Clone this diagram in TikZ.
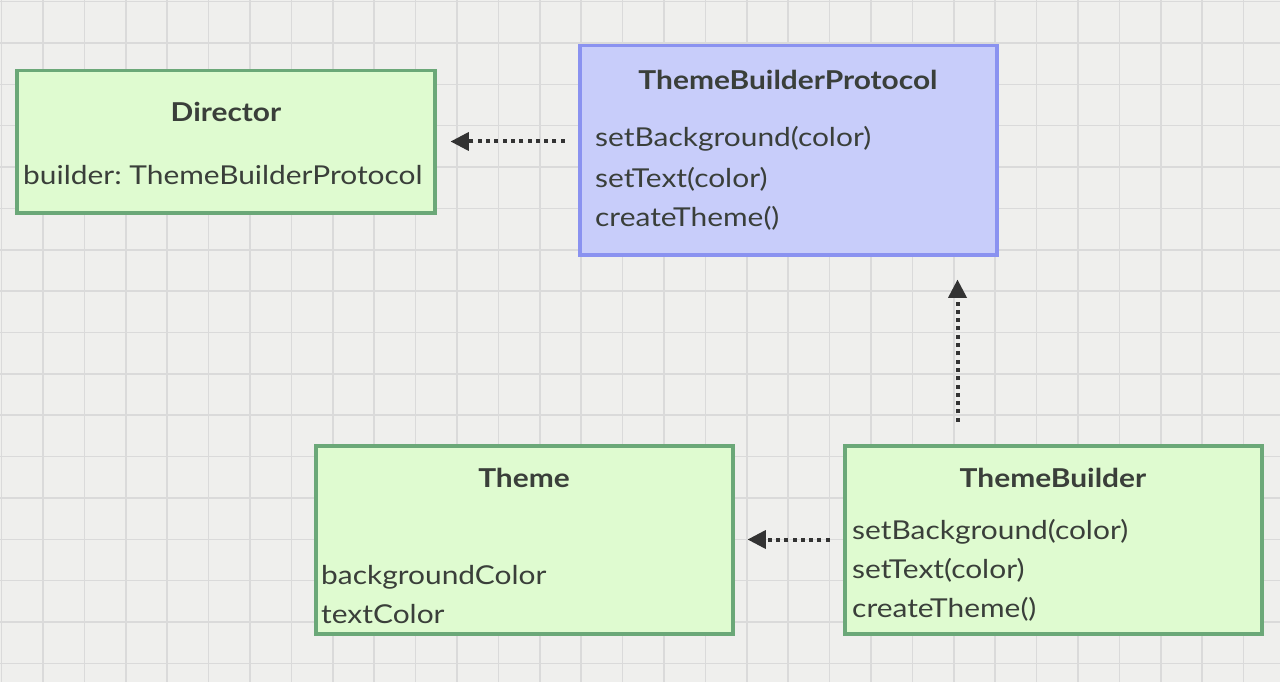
\documentclass[tikz,border=0pt]{standalone}
\usepackage{fontspec}
\setmainfont{Lato}[FakeStretch=1.15]
\usetikzlibrary{arrows.meta}
\frenchspacing
\definecolor{paper}{HTML}{EFEFED}
\definecolor{gridc}{HTML}{DADADA}
\definecolor{gborder}{HTML}{6BA878}
\definecolor{gfill}{HTML}{DFFBD0}
\definecolor{bborder}{HTML}{8A92F0}
\definecolor{bfill}{HTML}{C8CDFA}
\definecolor{txt}{HTML}{3A3F3A}
\definecolor{arr}{HTML}{333333}
\tikzset{
  umlbox/.style={draw, line width=3.5pt, rectangle, anchor=north west, inner sep=0pt, outer sep=0pt},
  greenbox/.style={umlbox, draw=gborder, fill=gfill},
  bluebox/.style={umlbox, draw=bborder, fill=bfill},
  ttl/.style={anchor=base, inner sep=0pt, text=txt, font=\fontsize{26}{30}\selectfont\bfseries},
  mem/.style={anchor=base west, inner sep=0pt, text=txt, font=\fontsize{26}{30}\selectfont},
  dep/.style={draw=arr, line width=4pt, dash pattern=on 4pt off 4.3pt,
    -{Triangle[length=18pt,width=19pt,line width=0pt]}},
}
\begin{document}
\begin{tikzpicture}[x=1pt,y=-1pt]
\useasboundingbox (0,0) rectangle (1280,682);
\fill[paper] (0,0) rectangle (1280,682);
\foreach \i in {0,...,31} {
  \draw[gridc, line width=1.5pt] (1.6+41.4*\i,0) -- (1.6+41.4*\i,682);
}
\foreach \j in {0,...,16} {
  \draw[gridc, line width=1.5pt] (0,1.7+41.35*\j) -- (1280,1.7+41.35*\j);
}
% boxes
\node[greenbox, minimum width=418pt, minimum height=142pt] (dir) at (16.75,70.75) {};
\node[bluebox, minimum width=417pt, minimum height=209pt] (tbp) at (579.75,45.75) {};
\node[greenbox, minimum width=417pt, minimum height=188pt] (thm) at (315.75,445.75) {};
\node[greenbox, minimum width=417pt, minimum height=188pt] (tb) at (844.75,445.75) {};
% Director
\node[ttl] (dirt) at (226,122) {Director};
\node[mem] (dir1) at (23,185) {builder: ThemeBuilderProtocol};
% ThemeBuilderProtocol
\node[ttl] (tbpt) at (788,90) {ThemeBuilderProtocol};
\node[mem] (tbp1) at (595,147) {setBackground(color)};
\node[mem] (tbp2) at (595,187) {setText(color)};
\node[mem] (tbp3) at (595,226) {createTheme()};
% Theme
\node[ttl] (thmt) at (524,487) {Theme};
\node[mem] (thm1) at (321,584) {backgroundColor};
\node[mem] (thm2) at (321,623) {textColor};
% ThemeBuilder
\node[ttl] (tbt) at (1053,487) {ThemeBuilder};
\node[mem] (tb1) at (852,539) {setBackground(color)};
\node[mem] (tb2) at (852,578) {setText(color)};
\node[mem] (tb3) at (852,617) {createTheme()};
% connectors
\coordinate (a1s) at ([xshift=-15pt]tbp.west |- 0,141.5);
\coordinate (a1e) at ([xshift=16pt]dir.east |- 0,141.5);
\draw[dep] (a1s) -- (a1e);
\coordinate (a2s) at ([yshift=24pt]tb.north -| 957.5,0);
\coordinate (a2e) at ([yshift=-25pt]tbp.south -| 957.5,0);
\draw[dep] (a2s) -- (a2e);
\coordinate (a3s) at ([xshift=-15pt]tb.west |- 0,539.5);
\coordinate (a3e) at ([xshift=15pt]thm.east |- 0,539.5);
\draw[dep] (a3s) -- (a3e);
\end{tikzpicture}
\end{document}
